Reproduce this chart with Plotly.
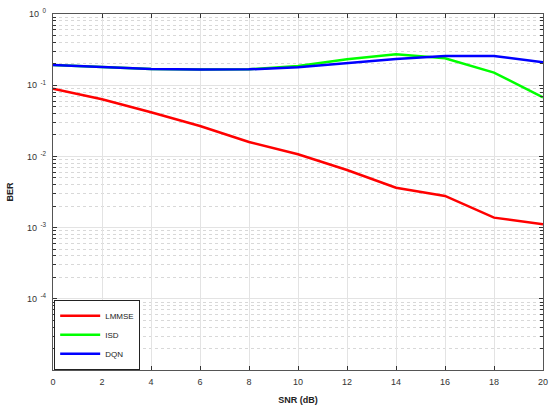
import plotly.graph_objects as go

snr = [0, 2, 4, 6, 8, 10, 12, 14, 16, 18, 20]
lmmse = [0.0893, 0.0634, 0.0416, 0.0267, 0.0159, 0.0107, 0.00645, 0.00363, 0.00278, 0.00138, 0.00111]
isd = [0.192, 0.178, 0.169, 0.166, 0.167, 0.186, 0.231, 0.272, 0.239, 0.150, 0.0676]
dqn = [0.192, 0.178, 0.169, 0.166, 0.167, 0.178, 0.203, 0.233, 0.257, 0.257, 0.210]

names = ["LMMSE", "ISD", "DQN"]
colors = ["#ff0000", "#00ff00", "#0000ff"]
series = [lmmse, isd, dqn]

xtick_vals = list(range(0, 21, 2))
ytick_vals = [1e-5, 1e-4, 1e-3, 1e-2, 1e-1, 1]
ytick_text = ["", "10<sup>  -4</sup>", "10<sup>  -3</sup>", "10<sup>  -2</sup>", "10<sup>  -1</sup>", "10<sup>  0</sup>"]
minor_vals = [m * 10.0 ** e for e in range(-5, 0) for m in range(2, 10)]

fig = go.Figure()
for n, c, s in zip(names, colors, series):
    fig.add_trace(go.Scatter(x=snr, y=s, mode="lines", name=n,
                             line=dict(color=c, width=2.5)))

fig.update_layout(
    width=550, height=409,
    margin=dict(l=53, r=7, t=14, b=39),
    paper_bgcolor="white", plot_bgcolor="white",
    font=dict(family="Arial, Liberation Sans, sans-serif", size=9, color="#333"),
    legend=dict(x=0.002, y=0.0, xanchor="left", yanchor="bottom",
                bgcolor="white", bordercolor="#222", borderwidth=1.2,
                font=dict(size=8, color="#222"), itemwidth=40,
                tracegroupgap=0),
    showlegend=True,
)
fig.update_xaxes(
    range=[0, 20], tickvals=xtick_vals, automargin=False,
    showgrid=True, gridcolor="#e3e3e3", gridwidth=1,
    ticks="inside", ticklen=4, tickcolor="#333",
    showline=True, linecolor="#555", linewidth=1.2, mirror="ticks",
    zeroline=False, ticklabeloverflow="allow", ticklabelstandoff=3,
    title=dict(text="<b>SNR (dB)</b>", font=dict(size=9, color="#222"), standoff=10),
)
fig.update_yaxes(
    type="log", range=[-5, 0], tickvals=ytick_vals, ticktext=ytick_text,
    automargin=False, ticklabelstandoff=4,
    showgrid=True, gridcolor="#e3e3e3", gridwidth=1,
    ticks="inside", ticklen=4, tickcolor="#333",
    showline=True, linecolor="#555", linewidth=1.2, mirror="ticks",
    zeroline=False,
    minor=dict(tickvals=minor_vals, ticks="inside", ticklen=3, tickcolor="#333",
               showgrid=True, gridcolor="#d8d8d8", griddash="dot", gridwidth=1),
    title=dict(text="<b>BER</b>", font=dict(size=9, color="#222"), standoff=11),
)

fig.write_html("out.html", config={"displayModeBar": False},
               post_script="document.body.style.margin='0';")
